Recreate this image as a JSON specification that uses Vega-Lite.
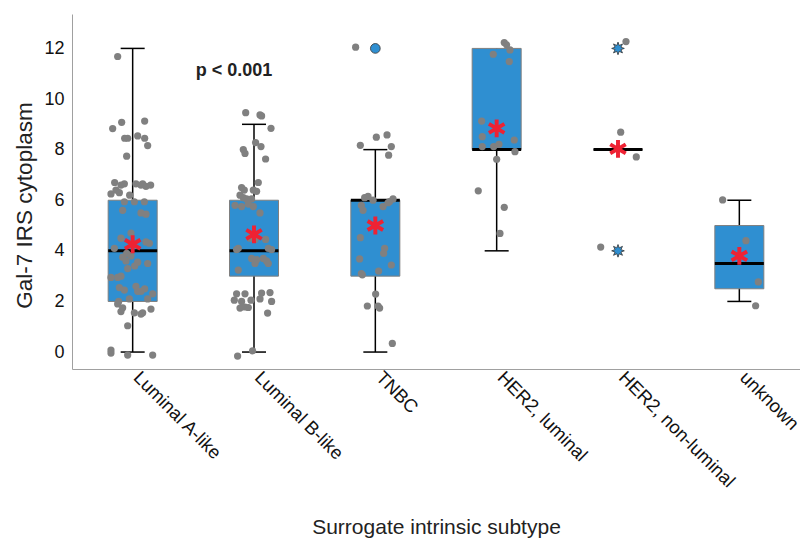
{
  "$schema": "https://vega.github.io/schema/vega-lite/v6.json",
  "width": 728,
  "height": 355,
  "autosize": "none",
  "padding": {"left": 72, "top": 14, "right": 0, "bottom": 173},
  "background": "white",
  "config": {
    "view": {"stroke": null},
    "font": "Liberation Sans",
    "axis": {"grid": false, "ticks": false, "domainColor": "#a0a0a0", "domainWidth": 1, "labelColor": "#222", "titleColor": "#222", "titleFontWeight": "normal", "titleFont": "Liberation Sans", "labelFont": "Liberation Sans"}
  },
  "datasets": {
    "box": [
      {"g": "Luminal A-like", "q1": 2, "med": 4, "q3": 6, "lo": 0, "hi": 12, "capLo": 0, "capHi": 12, "mean": 4.26},
      {"g": "Luminal B-like", "q1": 3, "med": 4, "q3": 6, "lo": 0, "hi": 9, "capLo": 0, "capHi": 9, "mean": 4.65},
      {"g": "TNBC", "q1": 3, "med": 6, "q3": 6, "lo": 0, "hi": 8, "capLo": 0, "capHi": 8, "mean": 5.0},
      {"g": "HER2, luminal", "q1": 8, "med": 8, "q3": 12, "lo": 4, "hi": 12, "capLo": 4, "capHi": null, "mean": 8.84},
      {"g": "HER2, non-luminal", "q1": 8, "med": 8, "q3": 8, "lo": 8, "hi": 8, "capLo": null, "capHi": null, "mean": 8.03},
      {"g": "unknown", "q1": 2.5, "med": 3.5, "q3": 5, "lo": 2, "hi": 6, "capLo": 2, "capHi": 6, "mean": 3.8}
    ],
    "out": [
      {"g": "TNBC", "v": 12, "kind": "outlier"},
      {"g": "HER2, non-luminal", "v": 12, "kind": "extreme"},
      {"g": "HER2, non-luminal", "v": 4, "kind": "extreme"}
    ],
    "pts": [
      {"g": "Luminal A-like", "j": -15, "v": 11.68},
      {"g": "Luminal A-like", "j": -11, "v": 9.08},
      {"g": "Luminal A-like", "j": 12, "v": 9.13},
      {"g": "Luminal A-like", "j": -20, "v": 8.83},
      {"g": "Luminal A-like", "j": -8, "v": 8.45},
      {"g": "Luminal A-like", "j": -5, "v": 8.45},
      {"g": "Luminal A-like", "j": 5, "v": 8.54},
      {"g": "Luminal A-like", "j": 12, "v": 8.45},
      {"g": "Luminal A-like", "j": 15, "v": 8.16},
      {"g": "Luminal A-like", "j": -6, "v": 7.74},
      {"g": "Luminal A-like", "j": -11.7, "v": 6.6},
      {"g": "Luminal A-like", "j": -8.3, "v": 6.65},
      {"g": "Luminal A-like", "j": 3.3, "v": 6.65},
      {"g": "Luminal A-like", "j": 8.3, "v": 6.6},
      {"g": "Luminal A-like", "j": 13.3, "v": 6.55},
      {"g": "Luminal A-like", "j": -16.7, "v": 6.4},
      {"g": "Luminal A-like", "j": -21.7, "v": 6.25},
      {"g": "Luminal A-like", "j": -13.3, "v": 6.3},
      {"g": "Luminal A-like", "j": -18, "v": 6.7},
      {"g": "Luminal A-like", "j": 18, "v": 6.6},
      {"g": "Luminal A-like", "j": 10, "v": 6.65},
      {"g": "Luminal A-like", "j": -3, "v": 6.2},
      {"g": "Luminal A-like", "j": -8.3, "v": 5.94},
      {"g": "Luminal A-like", "j": 1.7, "v": 5.94},
      {"g": "Luminal A-like", "j": 11.7, "v": 5.94},
      {"g": "Luminal A-like", "j": -10, "v": 5.6},
      {"g": "Luminal A-like", "j": 8.3, "v": 5.5},
      {"g": "Luminal A-like", "j": 13.3, "v": 5.45},
      {"g": "Luminal A-like", "j": -1.7, "v": 4.7},
      {"g": "Luminal A-like", "j": -11.7, "v": 4.5},
      {"g": "Luminal A-like", "j": 13.3, "v": 4.35},
      {"g": "Luminal A-like", "j": 16.7, "v": 4.3},
      {"g": "Luminal A-like", "j": -18.3, "v": 4.1},
      {"g": "Luminal A-like", "j": -6, "v": 3.9},
      {"g": "Luminal A-like", "j": -10, "v": 3.75},
      {"g": "Luminal A-like", "j": -6.7, "v": 3.6},
      {"g": "Luminal A-like", "j": -1.7, "v": 3.8},
      {"g": "Luminal A-like", "j": 5, "v": 3.55},
      {"g": "Luminal A-like", "j": 15, "v": 3.5},
      {"g": "Luminal A-like", "j": 2, "v": 3.4},
      {"g": "Luminal A-like", "j": -5, "v": 3.3},
      {"g": "Luminal A-like", "j": -21.7, "v": 2.95},
      {"g": "Luminal A-like", "j": -15, "v": 2.95},
      {"g": "Luminal A-like", "j": -11.7, "v": 3.0},
      {"g": "Luminal A-like", "j": -13.3, "v": 2.55},
      {"g": "Luminal A-like", "j": -8.3, "v": 2.45},
      {"g": "Luminal A-like", "j": 3.3, "v": 2.6},
      {"g": "Luminal A-like", "j": 5, "v": 2.4},
      {"g": "Luminal A-like", "j": 8.3, "v": 2.4},
      {"g": "Luminal A-like", "j": 12, "v": 2.5},
      {"g": "Luminal A-like", "j": 20, "v": 2.3},
      {"g": "Luminal A-like", "j": -3.3, "v": 2.1},
      {"g": "Luminal A-like", "j": 15, "v": 2.1},
      {"g": "Luminal A-like", "j": -14, "v": 2.0},
      {"g": "Luminal A-like", "j": -15, "v": 1.9},
      {"g": "Luminal A-like", "j": -10, "v": 1.75},
      {"g": "Luminal A-like", "j": -11.7, "v": 1.6},
      {"g": "Luminal A-like", "j": 18.3, "v": 1.7},
      {"g": "Luminal A-like", "j": 1.7, "v": 1.55},
      {"g": "Luminal A-like", "j": 8.3, "v": 1.5},
      {"g": "Luminal A-like", "j": 10, "v": 1.55},
      {"g": "Luminal A-like", "j": -5, "v": 1.04},
      {"g": "Luminal A-like", "j": -21.7, "v": 0.08},
      {"g": "Luminal A-like", "j": -21.7, "v": -0.04},
      {"g": "Luminal A-like", "j": -5, "v": -0.12},
      {"g": "Luminal A-like", "j": 20, "v": -0.12},
      {"g": "Luminal B-like", "j": -8.3, "v": 9.46},
      {"g": "Luminal B-like", "j": 6, "v": 9.37},
      {"g": "Luminal B-like", "j": 7.6, "v": 9.33},
      {"g": "Luminal B-like", "j": 17, "v": 8.84},
      {"g": "Luminal B-like", "j": 1.6, "v": 8.28},
      {"g": "Luminal B-like", "j": 7, "v": 8.12},
      {"g": "Luminal B-like", "j": -10.7, "v": 8.0},
      {"g": "Luminal B-like", "j": -9, "v": 7.85},
      {"g": "Luminal B-like", "j": 11.6, "v": 7.63},
      {"g": "Luminal B-like", "j": 4.3, "v": 6.7},
      {"g": "Luminal B-like", "j": -12.4, "v": 6.5},
      {"g": "Luminal B-like", "j": -9.7, "v": 6.4},
      {"g": "Luminal B-like", "j": -0.7, "v": 6.4},
      {"g": "Luminal B-like", "j": 2.6, "v": 6.35},
      {"g": "Luminal B-like", "j": -14, "v": 6.2},
      {"g": "Luminal B-like", "j": -10.7, "v": 6.1},
      {"g": "Luminal B-like", "j": -7.4, "v": 6.05},
      {"g": "Luminal B-like", "j": -2.4, "v": 6.05},
      {"g": "Luminal B-like", "j": -19, "v": 5.8},
      {"g": "Luminal B-like", "j": -12.4, "v": 5.75},
      {"g": "Luminal B-like", "j": -5.7, "v": 5.85},
      {"g": "Luminal B-like", "j": -0.7, "v": 5.75},
      {"g": "Luminal B-like", "j": 6, "v": 5.5},
      {"g": "Luminal B-like", "j": -4, "v": 4.5},
      {"g": "Luminal B-like", "j": 1, "v": 4.45},
      {"g": "Luminal B-like", "j": 11.6, "v": 4.45},
      {"g": "Luminal B-like", "j": -15.7, "v": 4.1},
      {"g": "Luminal B-like", "j": -17.4, "v": 4.05},
      {"g": "Luminal B-like", "j": 14.3, "v": 4.1},
      {"g": "Luminal B-like", "j": 17.6, "v": 4.05},
      {"g": "Luminal B-like", "j": -2.4, "v": 3.7},
      {"g": "Luminal B-like", "j": 2.6, "v": 3.65},
      {"g": "Luminal B-like", "j": 9.3, "v": 3.7},
      {"g": "Luminal B-like", "j": 12.6, "v": 3.6},
      {"g": "Luminal B-like", "j": 1, "v": 3.5},
      {"g": "Luminal B-like", "j": 14.3, "v": 3.5},
      {"g": "Luminal B-like", "j": -15.7, "v": 3.24},
      {"g": "Luminal B-like", "j": -17.4, "v": 2.3},
      {"g": "Luminal B-like", "j": -9, "v": 2.3},
      {"g": "Luminal B-like", "j": 7.6, "v": 2.33},
      {"g": "Luminal B-like", "j": 16, "v": 2.35},
      {"g": "Luminal B-like", "j": -19.7, "v": 2.05},
      {"g": "Luminal B-like", "j": -12.4, "v": 2.0},
      {"g": "Luminal B-like", "j": -3, "v": 2.05},
      {"g": "Luminal B-like", "j": 6, "v": 2.1},
      {"g": "Luminal B-like", "j": 17.6, "v": 2.0},
      {"g": "Luminal B-like", "j": -14, "v": 1.74},
      {"g": "Luminal B-like", "j": -9, "v": 1.78},
      {"g": "Luminal B-like", "j": -5.7, "v": 1.76},
      {"g": "Luminal B-like", "j": 13.6, "v": 1.54},
      {"g": "Luminal B-like", "j": -1.4, "v": 0.05},
      {"g": "Luminal B-like", "j": -16.4, "v": -0.16},
      {"g": "TNBC", "j": -19.7, "v": 12.05},
      {"g": "TNBC", "j": 1, "v": 8.49},
      {"g": "TNBC", "j": 11.7, "v": 8.58},
      {"g": "TNBC", "j": -15, "v": 8.17},
      {"g": "TNBC", "j": 16, "v": 8.12},
      {"g": "TNBC", "j": 13.3, "v": 7.78},
      {"g": "TNBC", "j": -10.7, "v": 6.1},
      {"g": "TNBC", "j": -7.3, "v": 6.15},
      {"g": "TNBC", "j": -2.3, "v": 6.0},
      {"g": "TNBC", "j": 14.3, "v": 5.95},
      {"g": "TNBC", "j": 17.7, "v": 6.05},
      {"g": "TNBC", "j": -14, "v": 5.8},
      {"g": "TNBC", "j": -12.3, "v": 5.6},
      {"g": "TNBC", "j": 7.7, "v": 5.75},
      {"g": "TNBC", "j": 12.7, "v": 5.9},
      {"g": "TNBC", "j": -15, "v": 4.52},
      {"g": "TNBC", "j": 9.3, "v": 4.1},
      {"g": "TNBC", "j": 8.3, "v": 3.9},
      {"g": "TNBC", "j": -15.7, "v": 3.68},
      {"g": "TNBC", "j": 16, "v": 3.44},
      {"g": "TNBC", "j": -14, "v": 3.1},
      {"g": "TNBC", "j": -13, "v": 3.05},
      {"g": "TNBC", "j": 3.3, "v": 3.2},
      {"g": "TNBC", "j": 0.3, "v": 2.29},
      {"g": "TNBC", "j": -8, "v": 1.82},
      {"g": "TNBC", "j": 2.7, "v": 1.82},
      {"g": "TNBC", "j": 4.3, "v": 1.74},
      {"g": "TNBC", "j": 17, "v": 0.34},
      {"g": "HER2, luminal", "j": 7.6, "v": 12.23},
      {"g": "HER2, luminal", "j": 10, "v": 12.14},
      {"g": "HER2, luminal", "j": 13.3, "v": 11.94},
      {"g": "HER2, luminal", "j": -3.4, "v": 11.77},
      {"g": "HER2, luminal", "j": 12.6, "v": 11.48},
      {"g": "HER2, luminal", "j": -15, "v": 9.13},
      {"g": "HER2, luminal", "j": -14.4, "v": 8.51},
      {"g": "HER2, luminal", "j": 17.6, "v": 8.38},
      {"g": "HER2, luminal", "j": -14.4, "v": 8.12},
      {"g": "HER2, luminal", "j": -3, "v": 8.12},
      {"g": "HER2, luminal", "j": 2.3, "v": 8.21},
      {"g": "HER2, luminal", "j": 18.3, "v": 7.92},
      {"g": "HER2, luminal", "j": 0, "v": 7.62},
      {"g": "HER2, luminal", "j": -18.4, "v": 6.37},
      {"g": "HER2, luminal", "j": 7.6, "v": 5.72},
      {"g": "HER2, luminal", "j": 3.3, "v": 4.69},
      {"g": "HER2, non-luminal", "j": 8, "v": 12.27},
      {"g": "HER2, non-luminal", "j": 2.7, "v": 8.69},
      {"g": "HER2, non-luminal", "j": 18.3, "v": 7.71},
      {"g": "HER2, non-luminal", "j": -17.3, "v": 4.15},
      {"g": "unknown", "j": -16.7, "v": 6.01},
      {"g": "unknown", "j": 6.6, "v": 4.4},
      {"g": "unknown", "j": 19, "v": 2.77},
      {"g": "unknown", "j": 16.3, "v": 1.83}
    ]
  },
  "encoding": {
    "x": {
      "field": "g", "type": "nominal",
      "sort": ["Luminal A-like", "Luminal B-like", "TNBC", "HER2, luminal", "HER2, non-luminal", "unknown"],
      "scale": {"paddingInner": 0, "paddingOuter": 0},
      "title": "Surrogate intrinsic subtype",
      "axis": {"labelAngle": 45, "labelFontSize": 18.5, "labelPadding": 5, "labelOffset": 4, "labelAlign": "left", "labelBaseline": "middle", "titleFontSize": 21, "titlePadding": 26, "labelColor": "#111", "labelLimit": 300}
    }
  },
  "layer": [
    {
      "data": {"name": "box"},
      "mark": {"type": "rule", "color": "#000", "strokeWidth": 1.5},
      "encoding": {
        "y": {"field": "lo", "type": "quantitative", "scale": {"domain": [-0.67, 13.36], "nice": false, "zero": false}, "title": "Gal-7 IRS cytoplasm",
          "axis": {"values": [0, 2, 4, 6, 8, 10, 12], "labelFontSize": 18, "labelPadding": 8, "titleFontSize": 22.5, "titlePadding": 7, "titleY": 191, "labelColor": "#111"}},
        "y2": {"field": "hi"}
      }
    },
    {
      "data": {"name": "box"},
      "mark": {"type": "bar", "width": 49, "fill": "#2F8FD1", "stroke": "#7f7f7f", "strokeWidth": 1},
      "encoding": {
        "y": {"field": "q1", "type": "quantitative", "title": "Gal-7 IRS cytoplasm"},
        "y2": {"field": "q3"}
      }
    },
    {
      "data": {"name": "box"},
      "mark": {"type": "tick", "orient": "horizontal", "size": 24, "thickness": 1.5, "color": "#000", "opacity": 1},
      "encoding": {"y": {"field": "capLo", "type": "quantitative", "title": "Gal-7 IRS cytoplasm"}}
    },
    {
      "data": {"name": "box"},
      "mark": {"type": "tick", "orient": "horizontal", "size": 24, "thickness": 1.5, "color": "#000", "opacity": 1},
      "encoding": {"y": {"field": "capHi", "type": "quantitative", "title": "Gal-7 IRS cytoplasm"}}
    },
    {
      "data": {"name": "box"},
      "mark": {"type": "tick", "orient": "horizontal", "size": 49, "thickness": 3, "color": "#000", "opacity": 1},
      "encoding": {"y": {"field": "med", "type": "quantitative", "title": "Gal-7 IRS cytoplasm"}}
    },
    {
      "data": {"name": "pts"},
      "mark": {"type": "circle", "size": 52, "color": "#808080", "opacity": 1},
      "encoding": {
        "y": {"field": "v", "type": "quantitative", "title": "Gal-7 IRS cytoplasm"},
        "xOffset": {"field": "j", "type": "quantitative", "scale": {"domain": [-60.67, 60.67]}}
      }
    },
    {
      "data": {"name": "out"},
      "transform": [{"filter": "datum.kind === 'outlier'"}],
      "mark": {"type": "point", "shape": "circle", "size": 95, "filled": true, "fill": "#2F8FD1", "stroke": "#333", "strokeWidth": 0.8, "opacity": 1},
      "encoding": {"y": {"field": "v", "type": "quantitative", "title": "Gal-7 IRS cytoplasm"}}
    },
    {
      "data": {"name": "out"},
      "transform": [{"filter": "datum.kind === 'extreme'"}],
      "mark": {"type": "point", "shape": "M1,0L0.462,0.191L0.707,0.707L0.191,0.462L0,1L-0.191,0.462L-0.707,0.707L-0.462,0.191L-1,0L-0.462,-0.191L-0.707,-0.707L-0.191,-0.462L0,-1L0.191,-0.462L0.707,-0.707L0.462,-0.191Z", "size": 160, "filled": true, "fill": "#2F8FD1", "stroke": "#333", "strokeWidth": 0.8, "opacity": 1},
      "encoding": {"y": {"field": "v", "type": "quantitative", "title": "Gal-7 IRS cytoplasm"}}
    },
    {
      "data": {"name": "box"},
      "mark": {"type": "point", "shape": "M-0.22,-1L0.22,-1L0.22,1L-0.22,1Z M0.756,-0.690L0.976,-0.309L-0.756,0.690L-0.976,0.309Z M-0.976,-0.309L-0.756,-0.690L0.976,0.309L0.756,0.690Z", "size": 320, "filled": true, "fill": "#EE2233", "strokeWidth": 0, "opacity": 1},
      "encoding": {"y": {"field": "mean", "type": "quantitative", "title": "Gal-7 IRS cytoplasm"}}
    },
    {
      "data": {"values": [{"g": "Luminal B-like", "v": 11.1, "t": "p < 0.001"}]},
      "mark": {"type": "text", "fontSize": 18, "fontWeight": "bold", "color": "#222", "dx": -20, "align": "center", "baseline": "middle"},
      "encoding": {
        "y": {"field": "v", "type": "quantitative", "title": "Gal-7 IRS cytoplasm"},
        "text": {"field": "t"}
      }
    }
  ]
}
